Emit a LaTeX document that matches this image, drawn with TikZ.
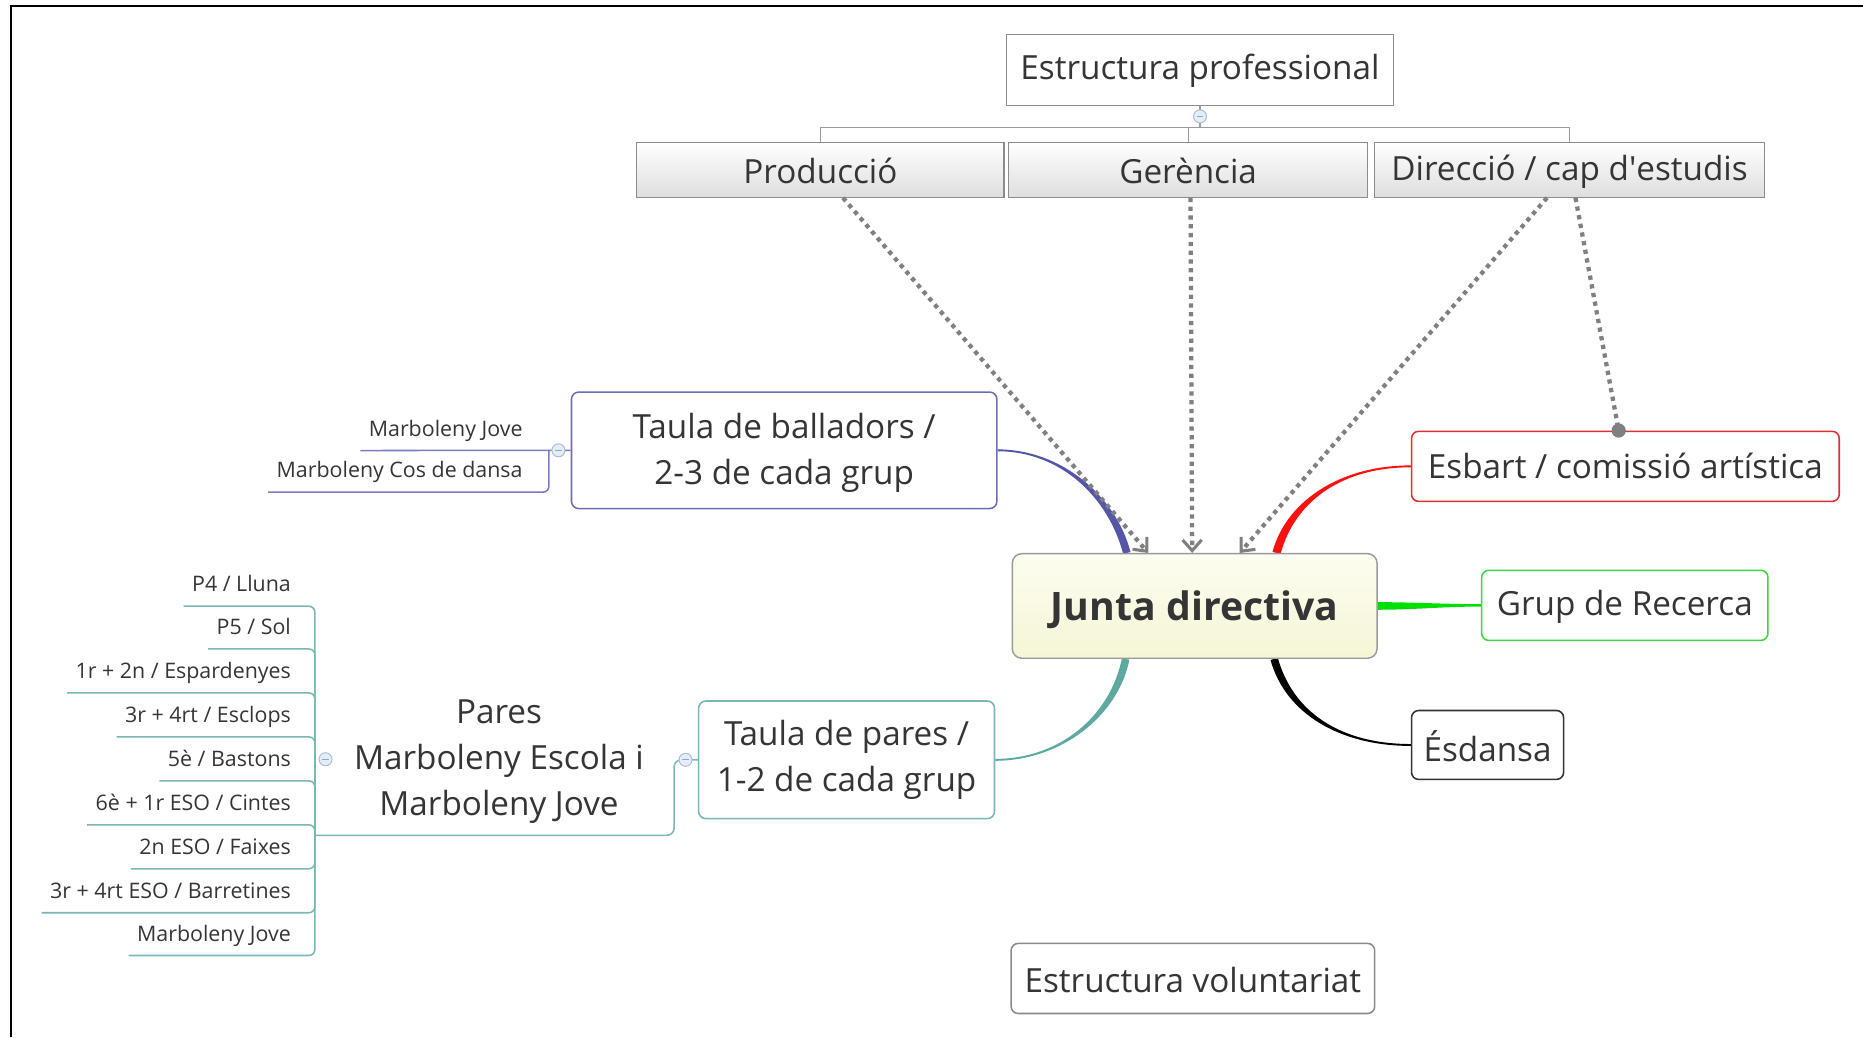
\documentclass[tikz,border=0pt]{standalone}
\usepackage{fontspec}
\setmainfont{Open Sans}
\usetikzlibrary{calc,arrows.meta,backgrounds}
\definecolor{txt}{HTML}{353535}
\definecolor{orgline}{HTML}{9A9A9A}
\definecolor{orgborder}{HTML}{8C8C8C}
\definecolor{juntaborder}{HTML}{9A9A9A}
\definecolor{juntatop}{HTML}{FDFDF0}
\definecolor{juntabot}{HTML}{F5F5D6}
\definecolor{balc}{HTML}{6C6CB8}
\definecolor{bline}{HTML}{7A7AC4}
\definecolor{tpc}{HTML}{79B6B6}
\definecolor{tline}{HTML}{7AB7B7}
\definecolor{esbc}{HTML}{DD3030}
\definecolor{grupc}{HTML}{3CD83C}
\definecolor{esdc}{HTML}{333333}
\definecolor{volc}{HTML}{8A8A8A}
\definecolor{blueb}{HTML}{5555AA}
\definecolor{redb}{HTML}{FF1010}
\definecolor{greenb}{HTML}{00E000}
\definecolor{blackb}{HTML}{000000}
\definecolor{tealb}{HTML}{5EA8A2}
\definecolor{dotgray}{HTML}{808080}
\definecolor{collb}{HTML}{A9BCD6}
\definecolor{collf}{HTML}{E4ECF6}
\definecolor{collm}{HTML}{8FA6C6}
% tapered branch: P0 (thin end), P1, P2, P3 (thick end), half widths, colour
\newcommand{\taperline}[7]{%
  \fill[#7] ($(#1)!#5!90:(#2)$) .. controls ($(#2)!#5!-90:(#1)$) and ($(#3)!#6!90:(#4)$) .. ($(#4)!#6!-90:(#3)$)
    -- ($(#4)!#6!90:(#3)$) .. controls ($(#3)!#6!-90:(#4)$) and ($(#2)!#5!90:(#1)$) .. ($(#1)!#5!-90:(#2)$) -- cycle;}
\begin{document}
\begin{tikzpicture}[x=1pt,y=-1pt,
  base/.style={text=txt, inner sep=0pt, align=center, font=\fontsize{28}{38.5}\selectfont},
  tpos/.style={text height=#1, text depth=0pt},
  orgbox/.style={base, draw=orgborder, line width=1pt, top color=white, bottom color=black!13},
  mbox/.style={base, draw=#1, line width=1.3pt, rounded corners=6pt, fill=white},
  junta/.style={text=txt, inner sep=0pt, font=\bfseries\fontsize{33}{38}\selectfont,
    draw=juntaborder, line width=1.2pt, rounded corners=8pt, top color=juntatop, bottom color=juntabot},
  leaf/.style={text=txt, font=\fontsize{18}{22}\selectfont, inner xsep=7pt, inner ysep=12pt,
    text height=13pt, text depth=0pt, anchor=base east},
  coll/.style={circle, draw=collb, fill=collf, line width=0.8pt, minimum size=11pt, inner sep=0pt,
    path picture={\draw[collm, line width=0.9pt] ([xshift=-2.6pt]path picture bounding box.center) -- ([xshift=2.6pt]path picture bounding box.center);}},
  orgl/.style={draw=orgline, line width=1.1pt},
  dotl/.style={draw=dotgray, line width=3.6pt, dash pattern=on 3.6pt off 3.8pt},
  barb/.style={-{Straight Barb[length=9pt, width=16pt, line width=2.6pt]}},
  bl/.style={draw=bline, line width=1.3pt},
  tl/.style={draw=tline, line width=1.3pt}
]
\useasboundingbox (0,0) rectangle (1568,873);
\draw[line width=2pt, black] (9,873) -- (9,5) -- (1568,5);

% --- nodes ---
\node[base, draw=orgborder, line width=1pt, fill=white, tpos=15pt, minimum width=326pt, minimum height=60pt] (ep) at (1010,59) {Estructura professional};
\node[orgbox, tpos=23pt, minimum width=309pt, minimum height=46pt] (prod) at (690.5,143) {Producció};
\node[orgbox, tpos=23pt, minimum width=302pt, minimum height=46pt] (gere) at (1000,143) {Gerència};
\node[orgbox, tpos=17pt, minimum width=328pt, minimum height=46pt] (dir) at (1321,143) {Direcció / cap d\textquotesingle estudis};

\node[junta, tpos=24pt, minimum width=307pt, minimum height=88pt] (junta) at (1005.5,510) {Junta directiva};

\node[mbox=balc, minimum width=358pt, minimum height=98pt, text depth=2pt] (bal) at (660,379) {Taula de balladors /\\2-3 de cada grup};
\node[mbox=tpc, minimum width=249pt, minimum height=99pt] (tp) at (712.5,639.5) {Taula de pares /\\1-2 de cada grup};
\node[base] (pares) at (420,641) {Pares\\Marboleny Escola i\\Marboleny Jove};
\node[mbox=esbc, tpos=21pt, minimum width=360pt, minimum height=59pt] (esb) at (1368,392.5) {Esbart / comissió artística};
\node[mbox=grupc, tpos=17pt, minimum width=241pt, minimum height=59pt] (grup) at (1367.5,509.5) {Grup de Recerca};
\node[mbox=esdc, tpos=27pt, minimum width=128pt, minimum height=58pt] (esd) at (1252,627) {Ésdansa};
\node[mbox=volc, tpos=23pt, minimum width=306pt, minimum height=59pt] (vol) at (1004,823.5) {Estructura voluntariat};

% balladors leaves
\node[leaf] (bj) at (447,367) {Marboleny Jove};
\node[leaf] (bc) at (447,402) {Marboleny Cos de dansa};
% pares leaves
\node[leaf] (l1) at (252,498) {P4 / Lluna};
\node[leaf] (l2) at (252,534) {P5 / Sol};
\node[leaf] (l3) at (252,571) {1r + 2n / Espardenyes};
\node[leaf] (l4) at (252,608) {3r + 4rt / Esclops};
\node[leaf] (l5) at (252,645) {5è / Bastons};
\node[leaf] (l6) at (252,682) {6è + 1r ESO / Cintes};
\node[leaf] (l7) at (252,719) {2n ESO / Faixes};
\node[leaf] (l8) at (252,756) {3r + 4rt ESO / Barretines};
\node[leaf] (l9) at (252,792) {Marboleny Jove};

% collapse markers
\node[coll] (c1) at (1010,98) {};
\node[coll] (c2) at (470,379) {};
\node[coll] (c3) at (577,639.5) {};
\node[coll] (c4) at (274,639) {};

% named points
\coordinate (btrunk) at (462,379);
\coordinate (ptrunk) at (265,703);
\coordinate (jbl) at ($(junta.north west)+(97,0)$);
\coordinate (jrd) at ($(junta.north west)+(223,0)$);
\coordinate (jtl) at ($(junta.south west)+(96,0)$);
\coordinate (jbk) at ($(junta.south west)+(221,0)$);
\coordinate (ja1) at ($(junta.north west)+(115,0)$);
\coordinate (ja2) at ($(junta.north west)+(152,0)$);
\coordinate (ja3) at ($(junta.north west)+(192,0)$);
\coordinate (ps) at ($(prod.south west)+(174,0)$);
\coordinate (gs) at ($(gere.south)+(2,0)$);
\coordinate (ds1) at ($(dir.south)+(-19,0)$);
\coordinate (ds2) at ($(dir.south)+(5,0)$);
\coordinate (esbtop) at ($(esb.north west)+(175,0)$);

\begin{pgfonlayer}{background}
% org chart lines
\draw[orgl] (ep.south) -- ++(0,18) -| (prod.north);
\draw[orgl] (ep.south) ++(0,18) -| (gere.north);
\draw[orgl] (ep.south) ++(0,18) -| (dir.north);

% tapered branches from Junta directiva
\taperline{bal.east}{893,379}{936,418}{jbl}{0.8pt}{3.2pt}{blueb}
\taperline{esb.west}{1125,392.5}{1085,425}{jrd}{0.8pt}{3.5pt}{redb}
\taperline{grup.west}{1215,509.5}{1190,510}{junta.east}{1pt}{3.2pt}{greenb}
\taperline{esd.west}{1128,627}{1085,600}{jbk}{0.8pt}{3.2pt}{blackb}
\taperline{tp.east}{893,639.5}{938,602}{jtl}{0.8pt}{3.2pt}{tealb}

% balladors subtree
\draw[bl] (bal.west) -- (btrunk) -- (bj.south west);
\draw[bl, rounded corners=5pt] (btrunk) |- (bc.south west);

% pares subtree
\draw[tl, rounded corners=6pt] (tp.west) -- ++(-20,0) |- (ptrunk);
\foreach \n in {l1,l2,l3,l4,l5,l6,l7,l8,l9}{
  \draw[tl, rounded corners=5pt] (ptrunk) |- (\n.south west);
}
\end{pgfonlayer}

% dotted relations
\draw[dotl, barb] (ps) -- (ja1);
\draw[dotl, barb] (gs) -- (ja2);
\draw[dotl, barb] (ds1) -- (ja3);
\draw[dotl] (ds2) -- (esbtop);
\fill[dotgray] (esbtop) circle (6pt);
\end{tikzpicture}
\end{document}
